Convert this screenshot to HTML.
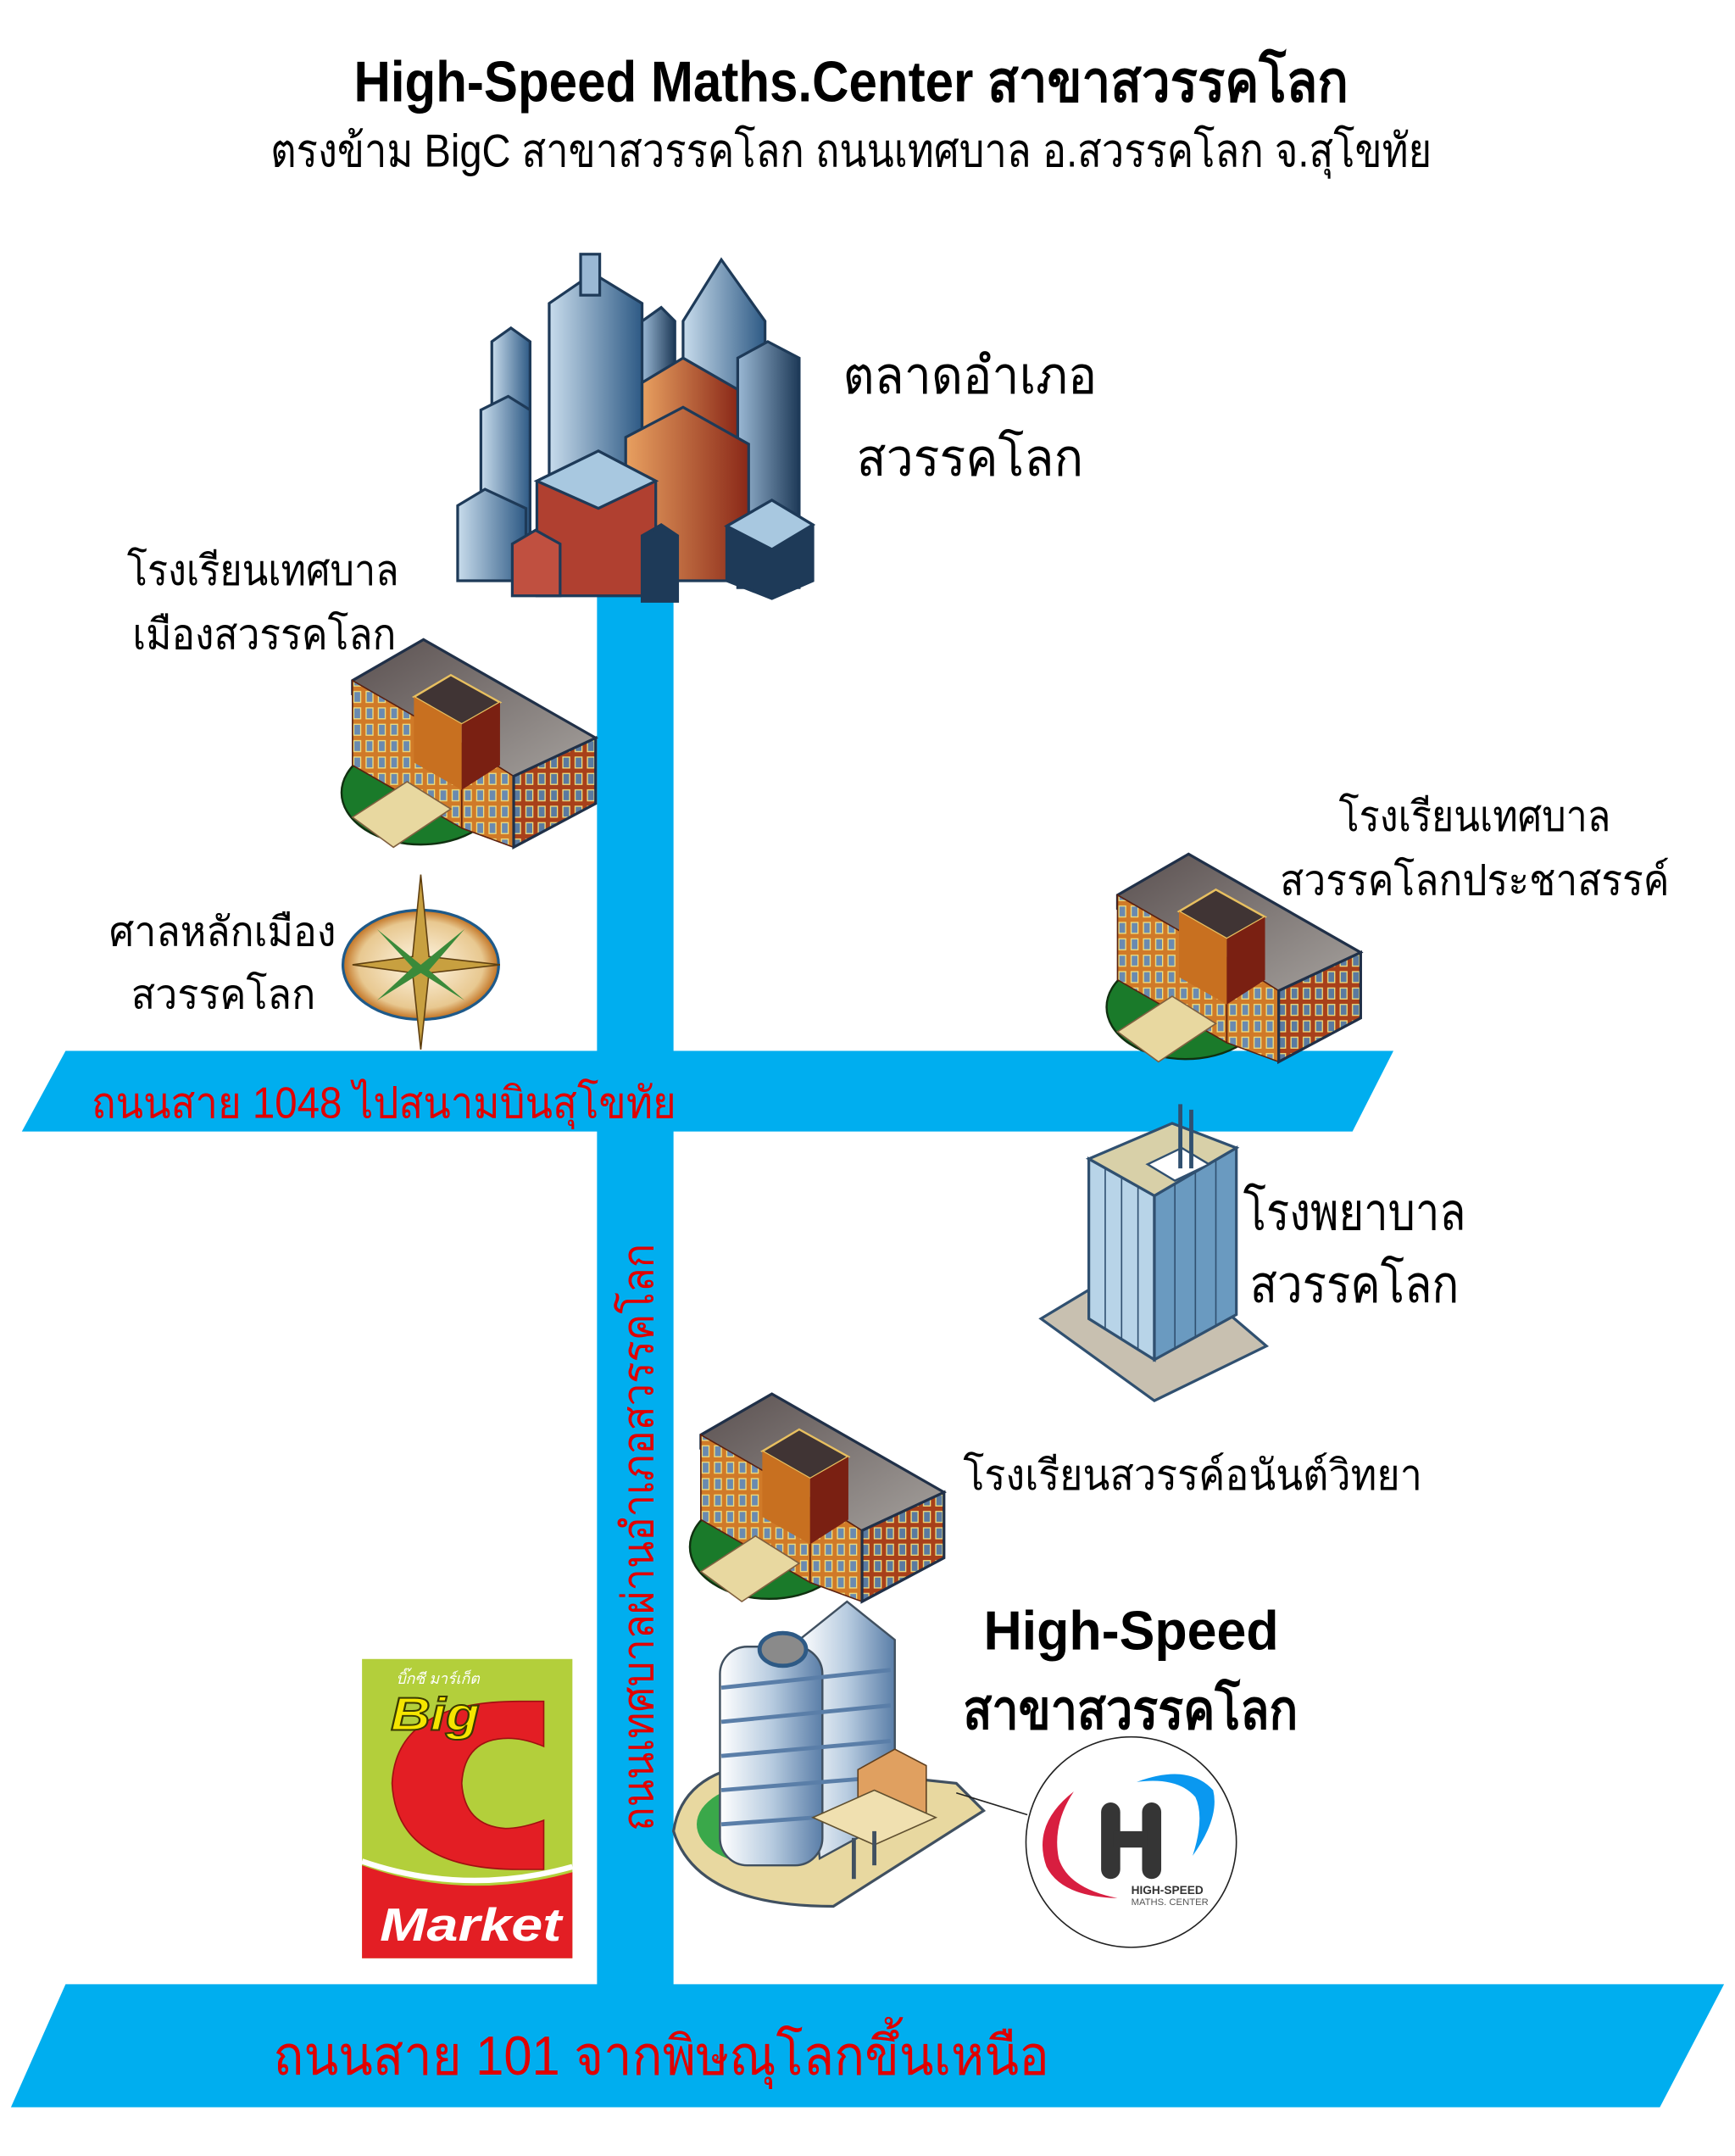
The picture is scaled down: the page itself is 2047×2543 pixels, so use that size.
<!DOCTYPE html>
<html><head><meta charset="utf-8"><style>
html,body{margin:0;padding:0;background:#fff}
svg{display:block}
text{font-family:"Liberation Sans","DejaVu Sans","Noto Sans CJK SC",sans-serif}
</style></head><body>
<svg width="2047" height="2543" viewBox="0 0 1270 1577.7" preserveAspectRatio="none" xmlns="http://www.w3.org/2000/svg">
<defs>
<linearGradient id="roof" x1="0" y1="0" x2="1" y2="1"><stop offset="0" stop-color="#5a5050"/><stop offset="1" stop-color="#a8a4a0"/></linearGradient>
<linearGradient id="blu" x1="0" y1="0" x2="1" y2="0"><stop offset="0" stop-color="#c8dcec"/><stop offset="1" stop-color="#2e5a85"/></linearGradient>
<linearGradient id="blu2" x1="0" y1="0" x2="1" y2="0"><stop offset="0" stop-color="#9ab8d4"/><stop offset="1" stop-color="#1e3a58"/></linearGradient>
<linearGradient id="org" x1="0" y1="0" x2="1" y2="0"><stop offset="0" stop-color="#e8a060"/><stop offset="1" stop-color="#8a2818"/></linearGradient>
<linearGradient id="cyl" x1="0" y1="0" x2="1" y2="0"><stop offset="0" stop-color="#ffffff"/><stop offset="0.5" stop-color="#b8cce0"/><stop offset="1" stop-color="#5a7ea8"/></linearGradient>
<radialGradient id="cmp"><stop offset="0" stop-color="#fff8e8"/><stop offset="0.8" stop-color="#e8c890"/><stop offset="1" stop-color="#c07020"/></radialGradient>
<pattern id="win" width="9" height="12" patternUnits="userSpaceOnUse"><rect width="9" height="12" fill="#d07a28"/><rect x="2" y="2" width="5" height="8" fill="#6a8ab0" stroke="#f0e080" stroke-width="0.8"/></pattern>
<pattern id="win2" width="9" height="12" patternUnits="userSpaceOnUse"><rect width="9" height="12" fill="#a8401a"/><rect x="2" y="2" width="5" height="8" fill="#5a7aa0" stroke="#f0e080" stroke-width="0.8"/></pattern>
<g id="school">
<ellipse cx="60" cy="112" rx="58" ry="38" fill="#1a7a2a" stroke="#103010" stroke-width="1.5"/>
<polygon points="10,30 62,0 188,72 128,108 90,86 10,40" fill="url(#roof)" stroke="#203048" stroke-width="2"/>
<polygon points="10,30 90,76 90,138 10,92" fill="url(#win)" stroke="#5a2010" stroke-width="1"/>
<polygon points="90,76 128,100 128,152 90,138" fill="url(#win)" stroke="#5a2010" stroke-width="1"/>
<polygon points="128,100 188,72 188,120 128,152" fill="url(#win2)" stroke="#203048" stroke-width="2"/>
<polygon points="55,42 82,26 118,46 90,62" fill="#403434" stroke="#e8c060" stroke-width="1.5"/>
<polygon points="55,42 90,62 90,110 55,90" fill="#c87020"/>
<polygon points="90,62 118,46 118,92 90,110" fill="#7a2012"/>
<polygon points="10,130 50,104 82,124 40,152" fill="#e8d8a0" stroke="#806040" stroke-width="1"/>
</g>
</defs>

<rect x="437" y="430" width="56" height="1030" fill="#00aeef"/>
<polygon points="48,769 1020,769 990,828 16,828" fill="#00aeef"/>
<polygon points="48,1452 1262,1452 1215,1542 8,1542" fill="#00aeef"/>

<text x="623" y="74" font-size="42" font-weight="bold" text-anchor="middle" textLength="728" lengthAdjust="spacingAndGlyphs">High-Speed Maths.Center สาขาสวรรคโลก</text>
<text x="623" y="122" font-size="34" text-anchor="middle" textLength="850" lengthAdjust="spacingAndGlyphs">ตรงข้าม BigC สาขาสวรรคโลก ถนนเทศบาล อ.สวรรคโลก จ.สุโขทัย</text>

<g stroke="#1e3a58" stroke-width="2">
<polygon points="360,250 374,240 388,250 388,420 360,420" fill="url(#blu)"/>
<polygon points="402,222 434,200 470,222 470,380 402,380" fill="url(#blu)"/>
<rect x="425" y="186" width="14" height="30" fill="#9ab8d4"/>
<polygon points="470,235 484,225 494,235 494,370 470,370" fill="url(#blu2)"/>
<polygon points="500,235 528,190 560,235 560,360 500,360" fill="url(#blu)"/>
<polygon points="540,262 562,250 585,262 585,430 540,430" fill="url(#blu2)"/>
<polygon points="352,300 372,290 388,300 388,420 352,420" fill="url(#blu)"/>
<polygon points="470,280 500,262 540,285 540,420 470,420" fill="url(#org)"/>
<polygon points="458,320 500,298 548,325 548,425 458,425" fill="url(#org)"/>
<polygon points="393,352 438,330 480,352 480,436 393,436" fill="#b04030"/>
<polygon points="393,352 438,330 480,352 438,372" fill="#a8c8e0"/>
<polygon points="335,370 355,358 385,372 385,425 335,425" fill="url(#blu)"/>
<polygon points="375,398 392,388 410,398 410,436 375,436" fill="#c05040"/>
<polygon points="470,392 484,384 496,392 496,440 470,440" fill="#1e3a58"/>
<polygon points="532,385 565,366 595,384 595,425 565,438 532,425" fill="#1e3a58"/>
<polygon points="532,385 565,366 595,384 565,402" fill="#a8c8e0"/>
</g>
<text x="617" y="288" font-size="38" textLength="186" lengthAdjust="spacingAndGlyphs">ตลาดอำเภอ</text>
<text x="627" y="348" font-size="38" textLength="166" lengthAdjust="spacingAndGlyphs">สวรรคโลก</text>

<use href="#school" transform="translate(248,468)"/>
<text x="93" y="428" font-size="31" textLength="199" lengthAdjust="spacingAndGlyphs">โรงเรียนเทศบาล</text>
<text x="97" y="475" font-size="31" textLength="193" lengthAdjust="spacingAndGlyphs">เมืองสวรรคโลก</text>

<ellipse cx="308" cy="706" rx="57" ry="40" fill="url(#cmp)" stroke="#1e5a8a" stroke-width="2"/>
<polygon points="308,640 314,700 366,706 314,712 308,768 302,712 258,706 302,700" fill="#c8a040" stroke="#604010" stroke-width="1"/>
<polygon points="308,706 340,680 314,710 340,732 308,712 276,732 302,708 276,680" fill="#3a8a3a"/>
<text x="80" y="692" font-size="30" textLength="166" lengthAdjust="spacingAndGlyphs">ศาลหลักเมือง</text>
<text x="96" y="738" font-size="30" textLength="135" lengthAdjust="spacingAndGlyphs">สวรรคโลก</text>

<use href="#school" transform="translate(808,625)"/>
<text x="980" y="608" font-size="31" textLength="199" lengthAdjust="spacingAndGlyphs">โรงเรียนเทศบาล</text>
<text x="937" y="655" font-size="31" textLength="285" lengthAdjust="spacingAndGlyphs">สวรรคโลกประชาสรรค์</text>

<text x="67" y="818" font-size="32" fill="#e00000" textLength="428" lengthAdjust="spacingAndGlyphs">ถนนสาย 1048 ไปสนามบินสุโขทัย</text>

<polygon points="762,965 845,915 927,985 845,1025" fill="#c8c0b0" stroke="#305070" stroke-width="2"/>
<polygon points="797,848 845,875 845,995 797,965" fill="#b8d4e8" stroke="#305070" stroke-width="2"/>
<polygon points="845,875 905,840 905,962 845,995" fill="#6a9ac0" stroke="#305070" stroke-width="2"/>
<polygon points="797,848 858,822 905,840 845,875" fill="#d8d0a8" stroke="#305070" stroke-width="2"/>
<polygon points="840,852 865,840 885,852 860,864" fill="#fff" stroke="#305070" stroke-width="1.5"/>
<line x1="864" y1="808" x2="864" y2="855" stroke="#305070" stroke-width="3"/>
<line x1="872" y1="812" x2="872" y2="855" stroke="#305070" stroke-width="3"/>
<g stroke="#305070" stroke-width="1"><line x1="809" y1="855" x2="809" y2="972"/><line x1="821" y1="862" x2="821" y2="980"/><line x1="833" y1="868" x2="833" y2="987"/><line x1="860" y1="866" x2="860" y2="987"/><line x1="875" y1="858" x2="875" y2="978"/><line x1="890" y1="849" x2="890" y2="970"/></g>
<text x="910" y="900" font-size="38" textLength="163" lengthAdjust="spacingAndGlyphs">โรงพยาบาล</text>
<text x="915" y="953" font-size="38" textLength="153" lengthAdjust="spacingAndGlyphs">สวรรคโลก</text>

<use href="#school" transform="translate(503,1020)"/>
<text x="705" y="1090" font-size="31" textLength="336" lengthAdjust="spacingAndGlyphs">โรงเรียนสวรรค์อนันต์วิทยา</text>

<path d="M493,1340 Q500,1295 560,1290 L700,1305 L720,1325 L610,1395 Q510,1395 493,1340 Z" fill="#e8d8a0" stroke="#405060" stroke-width="2"/>
<ellipse cx="560" cy="1335" rx="50" ry="30" fill="#3aa84a"/>
<polygon points="585,1200 620,1172 655,1200 655,1330 600,1360" fill="url(#cyl)" stroke="#405060" stroke-width="1.5"/>
<rect x="527" y="1205" width="75" height="160" rx="20" fill="url(#cyl)" stroke="#405060" stroke-width="1.5"/>
<g stroke="#5a7ea8" stroke-width="3"><line x1="528" y1="1235" x2="652" y2="1222"/><line x1="528" y1="1260" x2="652" y2="1248"/><line x1="528" y1="1285" x2="652" y2="1274"/><line x1="528" y1="1310" x2="652" y2="1300"/><line x1="528" y1="1335" x2="652" y2="1326"/></g>
<ellipse cx="573" cy="1207" rx="17" ry="12" fill="#8a8a8a" stroke="#2e5a85" stroke-width="3"/>
<polygon points="628,1295 655,1280 678,1292 678,1330 650,1345 628,1333" fill="#e0a060" stroke="#604020" stroke-width="1"/>
<polygon points="595,1330 640,1310 685,1330 640,1350" fill="#f0e0b0" stroke="#605030" stroke-width="1"/>
<line x1="625" y1="1345" x2="625" y2="1375" stroke="#405060" stroke-width="3"/>
<line x1="640" y1="1340" x2="640" y2="1365" stroke="#405060" stroke-width="3"/>
<line x1="700" y1="1312" x2="752" y2="1328" stroke="#222" stroke-width="1"/>
<text x="720" y="1207" font-size="40" font-weight="bold" textLength="216" lengthAdjust="spacingAndGlyphs">High-Speed</text>
<text x="705" y="1265" font-size="40" font-weight="bold" textLength="245" lengthAdjust="spacingAndGlyphs">สาขาสวรรคโลก</text>

<circle cx="828" cy="1348" r="77" fill="#fff" stroke="#222" stroke-width="1"/>
<path d="M786,1311 Q755,1335 766,1366 Q777,1388 818,1389 Q782,1382 775,1360 Q770,1335 786,1311 Z" fill="#d81e40"/>
<path d="M832,1304 Q870,1290 888,1310 Q893,1330 873,1358 Q882,1330 875,1315 Q862,1300 832,1304 Z" fill="#0a98f0"/>
<rect x="806" y="1319" width="14" height="56" rx="7" fill="#353535"/>
<rect x="836" y="1319" width="14" height="56" rx="7" fill="#353535"/>
<rect x="815" y="1340" width="25" height="12" fill="#353535"/>
<text x="828" y="1386" font-size="8.5" font-weight="bold" fill="#333">HIGH-SPEED</text>
<text x="828" y="1394" font-size="7" fill="#555">MATHS. CENTER</text>

<rect x="265" y="1214" width="154" height="219" fill="#b3cf3b"/>
<path d="M398,1245 L380,1245 Q290,1245 287,1305 Q290,1368 380,1368 L398,1368 L398,1332 Q382,1338 370,1338 Q340,1336 338,1305 Q340,1272 372,1272 Q384,1272 398,1278 Z" fill="#e31e24" stroke="#a01010" stroke-width="1"/>
<path d="M265,1365 Q340,1392 419,1370 L419,1433 L265,1433 Z" fill="#e31e24"/>
<path d="M265,1362 Q340,1388 419,1366" stroke="#fff" stroke-width="4" fill="none"/>
<text x="286" y="1266" font-size="34" font-weight="bold" font-style="italic" fill="#f5e500" stroke="#3a3a00" stroke-width="1.2" textLength="65" lengthAdjust="spacingAndGlyphs">Big</text>
<text x="290" y="1232" font-size="11" font-style="italic" fill="#fff">บิ๊กซี มาร์เก็ต</text>
<text x="278" y="1420" font-size="34" font-weight="bold" font-style="italic" fill="#fff" textLength="133" lengthAdjust="spacingAndGlyphs">Market</text>

<text transform="translate(478,1340) rotate(-90)" font-size="32" fill="#e00000" textLength="430" lengthAdjust="spacingAndGlyphs">ถนนเทศบาลผ่านอำเภอสวรรคโลก</text>

<text x="200" y="1518" font-size="40" fill="#e00000" textLength="568" lengthAdjust="spacingAndGlyphs">ถนนสาย 101 จากพิษณุโลกขึ้นเหนือ</text>
</svg>
</body></html>
